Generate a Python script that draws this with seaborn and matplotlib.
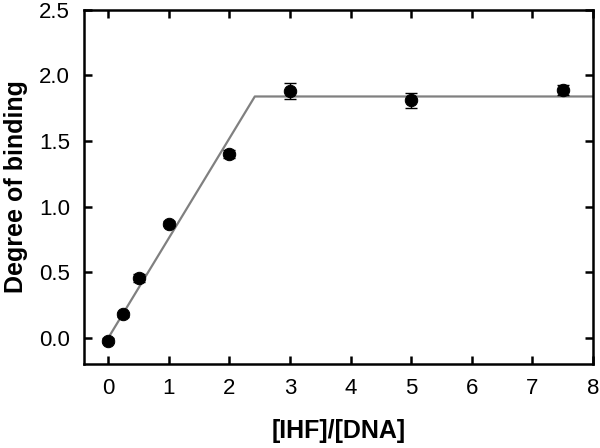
import seaborn as sns
import matplotlib.pyplot as plt
import pandas as pd

ratio = [0, 0.25, 0.5, 1, 2, 3, 5, 7.5]
binding = [-0.02, 0.18, 0.46, 0.87, 1.40, 1.88, 1.81, 1.89]
binding_err = [0.02, 0.02, 0.03, 0.02, 0.03, 0.06, 0.06, 0.04]

fit_x = [0, 2.42, 8]
fit_y = [0, 1.84, 1.84]

sns.set_style("ticks")
plt.rcParams['font.family'] = ['Liberation Sans', 'DejaVu Sans']
plt.rcParams['text.color'] = 'black'
plt.rcParams['axes.labelcolor'] = 'black'
plt.rcParams['xtick.color'] = 'black'
plt.rcParams['ytick.color'] = 'black'
plt.rcParams['axes.edgecolor'] = 'black'

df = pd.DataFrame({'ratio': ratio, 'binding': binding, 'err': binding_err})
fit = pd.DataFrame({'x': fit_x, 'y': fit_y})

fig = plt.figure(figsize=(6, 4.48), dpi=100)
ax = fig.add_axes([0.14, 0.187, 0.848, 0.791])

sns.lineplot(data=fit, x='x', y='y', color='#808080', linewidth=1.6, ax=ax)
ax.errorbar(df['ratio'], df['binding'], yerr=df['err'], fmt='none',
            ecolor='black', elinewidth=1, capsize=4, capthick=1)
sns.scatterplot(data=df, x='ratio', y='binding', color='black', s=80,
                edgecolor='black', zorder=3, ax=ax)

ax.set_xlim(-0.4, 8)
ax.set_ylim(-0.2, 2.5)
ax.set_xticks(range(0, 9))
ax.set_yticks([0, 0.5, 1.0, 1.5, 2.0, 2.5])
ax.set_yticklabels(['0.0', '0.5', '1.0', '1.5', '2.0', '2.5'])
ax.tick_params(direction='in', top=True, right=True, length=6, width=1.8,
               labelsize=16, pad=10)
for s in ax.spines.values():
    s.set_linewidth(1.8)
ax.set_xlabel('[IHF]/[DNA]', fontsize=18, fontweight='bold', labelpad=14)
ax.set_ylabel('Degree of binding', fontsize=18, fontweight='bold', labelpad=8)

fig.savefig('out.png', dpi=100)
